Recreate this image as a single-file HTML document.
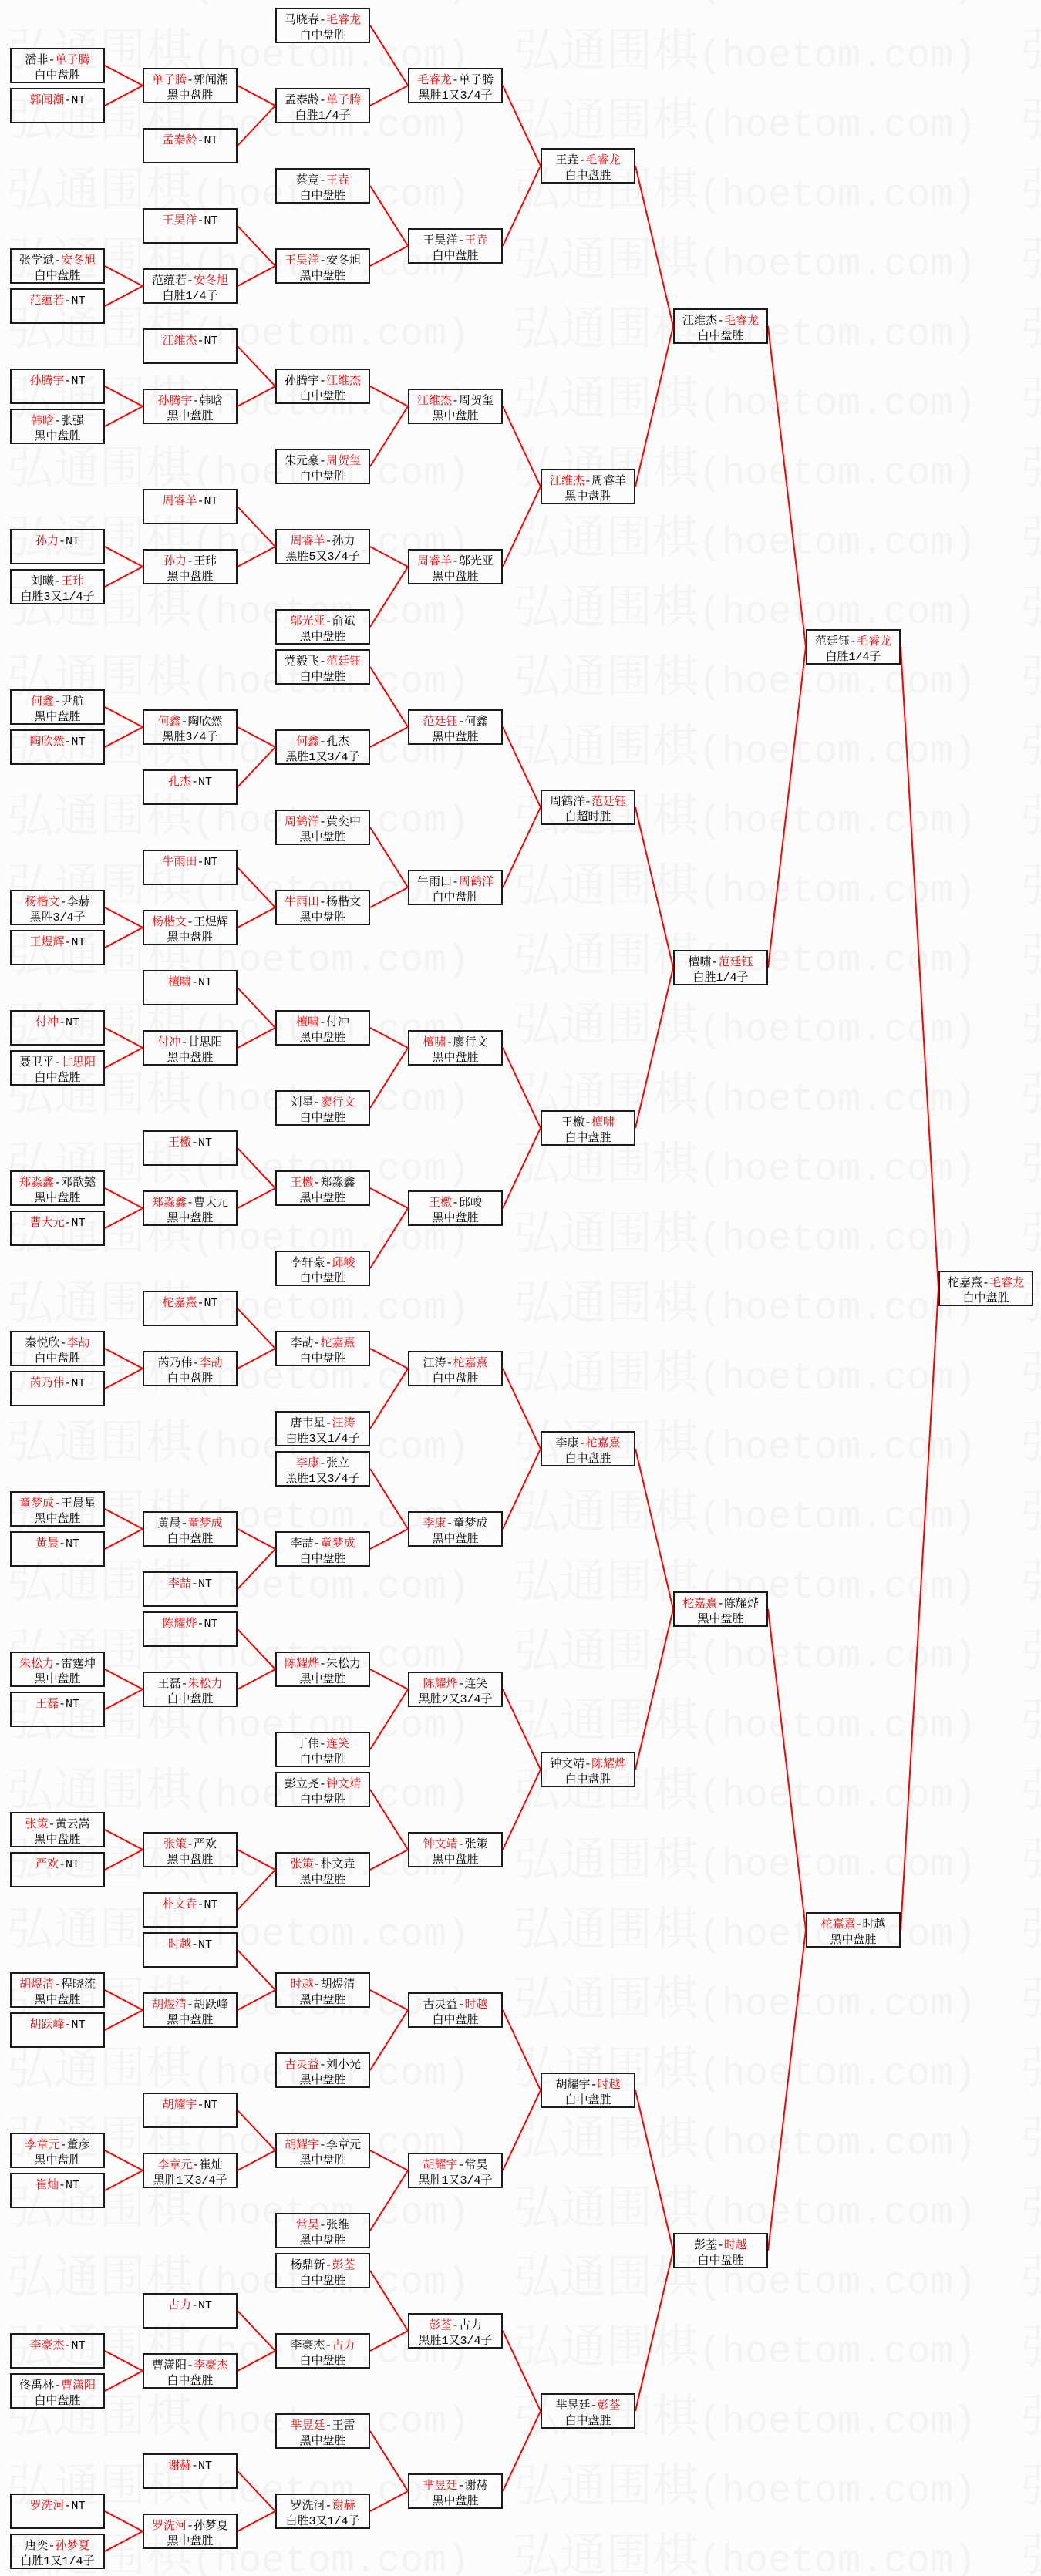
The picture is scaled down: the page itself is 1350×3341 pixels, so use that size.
<!DOCTYPE html>
<html><head><meta charset="utf-8"><style>
html,body{margin:0;padding:0}
body{width:1350px;height:3341px;position:relative;overflow:hidden;background:#fcfcfc}
svg{position:absolute;left:0;top:0}
.b{position:absolute;width:123px;height:46px;box-sizing:border-box;border:2px solid #1a1a1a;text-align:center;font-family:"Liberation Mono","Noto Serif CJK SC",monospace;font-size:15px;line-height:20px;padding-top:5px;color:#000;white-space:nowrap;overflow:visible}
em{font-style:normal;color:#f00}
.c0{left:13px}.c1{left:185px}.c2{left:357px}.c3{left:529px}.c4{left:701px}.c5{left:873px}.c6{left:1045px}.c7{left:1217px}
</style></head><body>
<svg width="1350" height="3341" viewBox="0 0 1350 3341">
<defs><pattern id="wm" patternUnits="userSpaceOnUse" x="9" y="18" width="657" height="90.25">
<text y="68" font-size="60" fill="#f3f3f3"><tspan font-family="'Liberation Serif','Noto Serif CJK SC',serif">弘通围棋</tspan><tspan font-family="'Liberation Mono',monospace" font-size="50">(hoetom.com)</tspan></text>
</pattern></defs>
<rect x="0" y="0" width="1350" height="3341" fill="url(#wm)"/>
<path fill="none" stroke="#f00" stroke-width="2" d="
M136 85L185 111M136 137L185 111
M136 345L185 371M136 397L185 371
M136 501L185 527M136 553L185 527
M136 709L185 735M136 761L185 735
M136 917L185 943M136 969L185 943
M136 1177L185 1203M136 1229L185 1203
M136 1333L185 1359M136 1385L185 1359
M136 1541L185 1567M136 1593L185 1567
M136 1749L185 1775M136 1801L185 1775
M136 1957L185 1983M136 2009L185 1983
M136 2165L185 2191M136 2217L185 2191
M136 2373L185 2399M136 2425L185 2399
M136 2581L185 2607M136 2633L185 2607
M136 2789L185 2815M136 2841L185 2815
M136 3049L185 3075M136 3101L185 3075
M136 3257L185 3283M136 3309L185 3283
M308 111L357 137M308 189L357 137
M308 293L357 345M308 371L357 345
M308 449L357 501M308 527L357 501
M308 657L357 709M308 735L357 709
M308 943L357 969M308 1021L357 969
M308 1125L357 1177M308 1203L357 1177
M308 1281L357 1333M308 1359L357 1333
M308 1489L357 1541M308 1567L357 1541
M308 1697L357 1749M308 1775L357 1749
M308 1983L357 2009M308 2061L357 2009
M308 2113L357 2165M308 2191L357 2165
M308 2399L357 2425M308 2477L357 2425
M308 2529L357 2581M308 2607L357 2581
M308 2737L357 2789M308 2815L357 2789
M308 2997L357 3049M308 3075L357 3049
M308 3205L357 3257M308 3283L357 3257
M480 33L529 111M480 137L529 111
M480 241L529 319M480 345L529 319
M480 501L529 527M480 605L529 527
M480 709L529 735M480 813L529 735
M480 865L529 943M480 969L529 943
M480 1073L529 1151M480 1177L529 1151
M480 1333L529 1359M480 1437L529 1359
M480 1541L529 1567M480 1645L529 1567
M480 1749L529 1775M480 1853L529 1775
M480 1905L529 1983M480 2009L529 1983
M480 2165L529 2191M480 2269L529 2191
M480 2321L529 2399M480 2425L529 2399
M480 2581L529 2607M480 2685L529 2607
M480 2789L529 2815M480 2893L529 2815
M480 2945L529 3023M480 3049L529 3023
M480 3153L529 3231M480 3257L529 3231
M652 111L701 215M652 319L701 215
M652 527L701 631M652 735L701 631
M652 943L701 1047M652 1151L701 1047
M652 1359L701 1463M652 1567L701 1463
M652 1775L701 1879M652 1983L701 1879
M652 2191L701 2295M652 2399L701 2295
M652 2607L701 2711M652 2815L701 2711
M652 3023L701 3127M652 3231L701 3127
M824 215L873 423M824 631L873 423
M824 1047L873 1255M824 1463L873 1255
M824 1879L873 2087M824 2295L873 2087
M824 2711L873 2919M824 3127L873 2919
M996 423L1045 839M996 1255L1045 839
M996 2087L1045 2503M996 2919L1045 2503
M1168 839L1217 1671M1168 2503L1217 1671
"/>
</svg>

<div class="b c0" style="top:62px">潘非-<em>单子腾</em><br>白中盘胜</div>
<div class="b c0" style="top:114px"><em>郭闻潮</em>-NT</div>
<div class="b c0" style="top:322px">张学斌-<em>安冬旭</em><br>白中盘胜</div>
<div class="b c0" style="top:374px"><em>范蕴若</em>-NT</div>
<div class="b c0" style="top:478px"><em>孙腾宇</em>-NT</div>
<div class="b c0" style="top:530px"><em>韩晗</em>-张强<br>黑中盘胜</div>
<div class="b c0" style="top:686px"><em>孙力</em>-NT</div>
<div class="b c0" style="top:738px">刘曦-<em>王玮</em><br>白胜3又1/4子</div>
<div class="b c0" style="top:894px"><em>何鑫</em>-尹航<br>黑中盘胜</div>
<div class="b c0" style="top:946px"><em>陶欣然</em>-NT</div>
<div class="b c0" style="top:1154px"><em>杨楷文</em>-李赫<br>黑胜3/4子</div>
<div class="b c0" style="top:1206px"><em>王煜辉</em>-NT</div>
<div class="b c0" style="top:1310px"><em>付冲</em>-NT</div>
<div class="b c0" style="top:1362px">聂卫平-<em>甘思阳</em><br>白中盘胜</div>
<div class="b c0" style="top:1518px"><em>郑淼鑫</em>-邓歆懿<br>黑中盘胜</div>
<div class="b c0" style="top:1570px"><em>曹大元</em>-NT</div>
<div class="b c0" style="top:1726px">秦悦欣-<em>李劼</em><br>白中盘胜</div>
<div class="b c0" style="top:1778px"><em>芮乃伟</em>-NT</div>
<div class="b c0" style="top:1934px"><em>童梦成</em>-王晨星<br>黑中盘胜</div>
<div class="b c0" style="top:1986px"><em>黄晨</em>-NT</div>
<div class="b c0" style="top:2142px"><em>朱松力</em>-雷霆坤<br>黑中盘胜</div>
<div class="b c0" style="top:2194px"><em>王磊</em>-NT</div>
<div class="b c0" style="top:2350px"><em>张策</em>-黄云嵩<br>黑中盘胜</div>
<div class="b c0" style="top:2402px"><em>严欢</em>-NT</div>
<div class="b c0" style="top:2558px"><em>胡煜清</em>-程晓流<br>黑中盘胜</div>
<div class="b c0" style="top:2610px"><em>胡跃峰</em>-NT</div>
<div class="b c0" style="top:2766px"><em>李章元</em>-董彦<br>黑中盘胜</div>
<div class="b c0" style="top:2818px"><em>崔灿</em>-NT</div>
<div class="b c0" style="top:3026px"><em>李豪杰</em>-NT</div>
<div class="b c0" style="top:3078px">佟禹林-<em>曹潇阳</em><br>白中盘胜</div>
<div class="b c0" style="top:3234px"><em>罗洗河</em>-NT</div>
<div class="b c0" style="top:3286px">唐奕-<em>孙梦夏</em><br>白胜1又1/4子</div>

<div class="b c1" style="top:88px"><em>单子腾</em>-郭闻潮<br>黑中盘胜</div>
<div class="b c1" style="top:166px"><em>孟泰龄</em>-NT</div>
<div class="b c1" style="top:270px"><em>王昊洋</em>-NT</div>
<div class="b c1" style="top:348px">范蕴若-<em>安冬旭</em><br>白胜1/4子</div>
<div class="b c1" style="top:426px"><em>江维杰</em>-NT</div>
<div class="b c1" style="top:504px"><em>孙腾宇</em>-韩晗<br>黑中盘胜</div>
<div class="b c1" style="top:634px"><em>周睿羊</em>-NT</div>
<div class="b c1" style="top:712px"><em>孙力</em>-王玮<br>黑中盘胜</div>
<div class="b c1" style="top:920px"><em>何鑫</em>-陶欣然<br>黑胜3/4子</div>
<div class="b c1" style="top:998px"><em>孔杰</em>-NT</div>
<div class="b c1" style="top:1102px"><em>牛雨田</em>-NT</div>
<div class="b c1" style="top:1180px"><em>杨楷文</em>-王煜辉<br>黑中盘胜</div>
<div class="b c1" style="top:1258px"><em>檀啸</em>-NT</div>
<div class="b c1" style="top:1336px"><em>付冲</em>-甘思阳<br>黑中盘胜</div>
<div class="b c1" style="top:1466px"><em>王檄</em>-NT</div>
<div class="b c1" style="top:1544px"><em>郑淼鑫</em>-曹大元<br>黑中盘胜</div>
<div class="b c1" style="top:1674px"><em>柁嘉熹</em>-NT</div>
<div class="b c1" style="top:1752px">芮乃伟-<em>李劼</em><br>白中盘胜</div>
<div class="b c1" style="top:1960px">黄晨-<em>童梦成</em><br>白中盘胜</div>
<div class="b c1" style="top:2038px"><em>李喆</em>-NT</div>
<div class="b c1" style="top:2090px"><em>陈耀烨</em>-NT</div>
<div class="b c1" style="top:2168px">王磊-<em>朱松力</em><br>白中盘胜</div>
<div class="b c1" style="top:2376px"><em>张策</em>-严欢<br>黑中盘胜</div>
<div class="b c1" style="top:2454px"><em>朴文垚</em>-NT</div>
<div class="b c1" style="top:2506px"><em>时越</em>-NT</div>
<div class="b c1" style="top:2584px"><em>胡煜清</em>-胡跃峰<br>黑中盘胜</div>
<div class="b c1" style="top:2714px"><em>胡耀宇</em>-NT</div>
<div class="b c1" style="top:2792px"><em>李章元</em>-崔灿<br>黑胜1又3/4子</div>
<div class="b c1" style="top:2974px"><em>古力</em>-NT</div>
<div class="b c1" style="top:3052px">曹潇阳-<em>李豪杰</em><br>白中盘胜</div>
<div class="b c1" style="top:3182px"><em>谢赫</em>-NT</div>
<div class="b c1" style="top:3260px"><em>罗洗河</em>-孙梦夏<br>黑中盘胜</div>

<div class="b c2" style="top:10px">马晓春-<em>毛睿龙</em><br>白中盘胜</div>
<div class="b c2" style="top:114px">孟泰龄-<em>单子腾</em><br>白胜1/4子</div>
<div class="b c2" style="top:218px">蔡竞-<em>王垚</em><br>白中盘胜</div>
<div class="b c2" style="top:322px"><em>王昊洋</em>-安冬旭<br>黑中盘胜</div>
<div class="b c2" style="top:478px">孙腾宇-<em>江维杰</em><br>白中盘胜</div>
<div class="b c2" style="top:582px">朱元豪-<em>周贺玺</em><br>白中盘胜</div>
<div class="b c2" style="top:686px"><em>周睿羊</em>-孙力<br>黑胜5又3/4子</div>
<div class="b c2" style="top:790px"><em>邬光亚</em>-俞斌<br>黑中盘胜</div>
<div class="b c2" style="top:842px">党毅飞-<em>范廷钰</em><br>白中盘胜</div>
<div class="b c2" style="top:946px"><em>何鑫</em>-孔杰<br>黑胜1又3/4子</div>
<div class="b c2" style="top:1050px"><em>周鹤洋</em>-黄奕中<br>黑中盘胜</div>
<div class="b c2" style="top:1154px"><em>牛雨田</em>-杨楷文<br>黑中盘胜</div>
<div class="b c2" style="top:1310px"><em>檀啸</em>-付冲<br>黑中盘胜</div>
<div class="b c2" style="top:1414px">刘星-<em>廖行文</em><br>白中盘胜</div>
<div class="b c2" style="top:1518px"><em>王檄</em>-郑淼鑫<br>黑中盘胜</div>
<div class="b c2" style="top:1622px">李轩豪-<em>邱峻</em><br>白中盘胜</div>
<div class="b c2" style="top:1726px">李劼-<em>柁嘉熹</em><br>白中盘胜</div>
<div class="b c2" style="top:1830px">唐韦星-<em>汪涛</em><br>白胜3又1/4子</div>
<div class="b c2" style="top:1882px"><em>李康</em>-张立<br>黑胜1又3/4子</div>
<div class="b c2" style="top:1986px">李喆-<em>童梦成</em><br>白中盘胜</div>
<div class="b c2" style="top:2142px"><em>陈耀烨</em>-朱松力<br>黑中盘胜</div>
<div class="b c2" style="top:2246px">丁伟-<em>连笑</em><br>白中盘胜</div>
<div class="b c2" style="top:2298px">彭立尧-<em>钟文靖</em><br>白中盘胜</div>
<div class="b c2" style="top:2402px"><em>张策</em>-朴文垚<br>黑中盘胜</div>
<div class="b c2" style="top:2558px"><em>时越</em>-胡煜清<br>黑中盘胜</div>
<div class="b c2" style="top:2662px"><em>古灵益</em>-刘小光<br>黑中盘胜</div>
<div class="b c2" style="top:2766px"><em>胡耀宇</em>-李章元<br>黑中盘胜</div>
<div class="b c2" style="top:2870px"><em>常昊</em>-张维<br>黑中盘胜</div>
<div class="b c2" style="top:2922px">杨鼎新-<em>彭荃</em><br>白中盘胜</div>
<div class="b c2" style="top:3026px">李豪杰-<em>古力</em><br>白中盘胜</div>
<div class="b c2" style="top:3130px"><em>芈昱廷</em>-王雷<br>黑中盘胜</div>
<div class="b c2" style="top:3234px">罗洗河-<em>谢赫</em><br>白胜3又1/4子</div>

<div class="b c3" style="top:88px"><em>毛睿龙</em>-单子腾<br>黑胜1又3/4子</div>
<div class="b c3" style="top:296px">王昊洋-<em>王垚</em><br>白中盘胜</div>
<div class="b c3" style="top:504px"><em>江维杰</em>-周贺玺<br>黑中盘胜</div>
<div class="b c3" style="top:712px"><em>周睿羊</em>-邬光亚<br>黑中盘胜</div>
<div class="b c3" style="top:920px"><em>范廷钰</em>-何鑫<br>黑中盘胜</div>
<div class="b c3" style="top:1128px">牛雨田-<em>周鹤洋</em><br>白中盘胜</div>
<div class="b c3" style="top:1336px"><em>檀啸</em>-廖行文<br>黑中盘胜</div>
<div class="b c3" style="top:1544px"><em>王檄</em>-邱峻<br>黑中盘胜</div>
<div class="b c3" style="top:1752px">汪涛-<em>柁嘉熹</em><br>白中盘胜</div>
<div class="b c3" style="top:1960px"><em>李康</em>-童梦成<br>黑中盘胜</div>
<div class="b c3" style="top:2168px"><em>陈耀烨</em>-连笑<br>黑胜2又3/4子</div>
<div class="b c3" style="top:2376px"><em>钟文靖</em>-张策<br>黑中盘胜</div>
<div class="b c3" style="top:2584px">古灵益-<em>时越</em><br>白中盘胜</div>
<div class="b c3" style="top:2792px"><em>胡耀宇</em>-常昊<br>黑胜1又3/4子</div>
<div class="b c3" style="top:3000px"><em>彭荃</em>-古力<br>黑胜1又3/4子</div>
<div class="b c3" style="top:3208px"><em>芈昱廷</em>-谢赫<br>黑中盘胜</div>

<div class="b c4" style="top:192px">王垚-<em>毛睿龙</em><br>白中盘胜</div>
<div class="b c4" style="top:608px"><em>江维杰</em>-周睿羊<br>黑中盘胜</div>
<div class="b c4" style="top:1024px">周鹤洋-<em>范廷钰</em><br>白超时胜</div>
<div class="b c4" style="top:1440px">王檄-<em>檀啸</em><br>白中盘胜</div>
<div class="b c4" style="top:1856px">李康-<em>柁嘉熹</em><br>白中盘胜</div>
<div class="b c4" style="top:2272px">钟文靖-<em>陈耀烨</em><br>白中盘胜</div>
<div class="b c4" style="top:2688px">胡耀宇-<em>时越</em><br>白中盘胜</div>
<div class="b c4" style="top:3104px">芈昱廷-<em>彭荃</em><br>白中盘胜</div>

<div class="b c5" style="top:400px">江维杰-<em>毛睿龙</em><br>白中盘胜</div>
<div class="b c5" style="top:1232px">檀啸-<em>范廷钰</em><br>白胜1/4子</div>
<div class="b c5" style="top:2064px"><em>柁嘉熹</em>-陈耀烨<br>黑中盘胜</div>
<div class="b c5" style="top:2896px">彭荃-<em>时越</em><br>白中盘胜</div>

<div class="b c6" style="top:816px">范廷钰-<em>毛睿龙</em><br>白胜1/4子</div>
<div class="b c6" style="top:2480px"><em>柁嘉熹</em>-时越<br>黑中盘胜</div>

<div class="b c7" style="top:1648px">柁嘉熹-<em>毛睿龙</em><br>白中盘胜</div>
</body></html>
